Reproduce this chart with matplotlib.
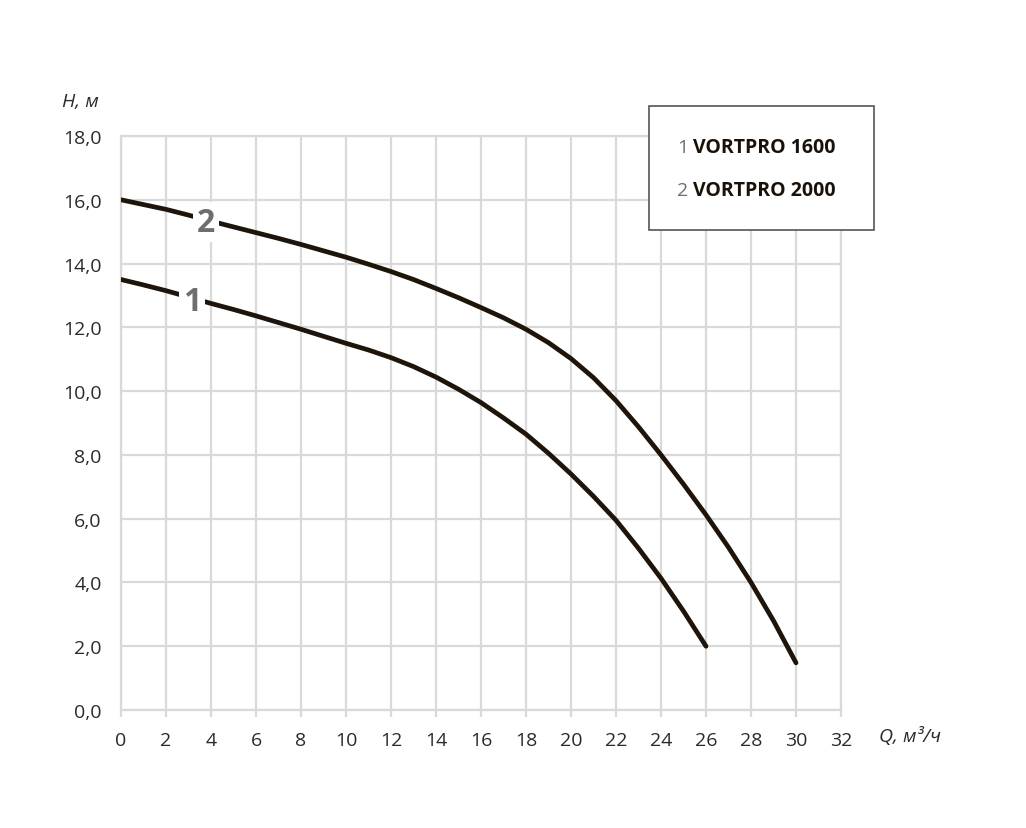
import matplotlib
matplotlib.use("Agg")
import matplotlib.pyplot as plt
import matplotlib.patches as patches

plt.rcParams['font.family'] = ['Open Sans', 'DejaVu Sans']

# Flow Q, m3/h and head H, m
q_1600 = [0, 1, 2, 3, 4, 5, 6, 7, 8, 9, 10, 11, 12, 13, 14, 15, 16, 17, 18,
          19, 20, 21, 22, 23, 24, 25, 26]
h_1600 = [13.5, 13.33, 13.15, 12.95, 12.75, 12.56, 12.36, 12.15, 11.94, 11.72,
          11.5, 11.29, 11.05, 10.77, 10.44, 10.06, 9.64, 9.16, 8.65, 8.05,
          7.4, 6.7, 5.95, 5.07, 4.13, 3.1, 2.0]

q_2000 = [0, 1, 2, 3, 4, 5, 6, 7, 8, 9, 10, 11, 12, 13, 14, 15, 16, 17, 18,
          19, 20, 21, 22, 23, 24, 25, 26, 27, 28, 29, 30]
h_2000 = [16.0, 15.85, 15.7, 15.52, 15.33, 15.15, 14.97, 14.79, 14.6, 14.4,
          14.2, 13.98, 13.75, 13.5, 13.22, 12.93, 12.62, 12.3, 11.94, 11.52,
          11.02, 10.42, 9.7, 8.88, 8.0, 7.08, 6.12, 5.1, 4.0, 2.8, 1.48]

x_ticks = list(range(0, 33, 2))
y_ticks = [0, 2, 4, 6, 8, 10, 12, 14, 16, 18]
y_tick_labels = ['0,0', '2,0', '4,0', '6,0', '8,0', '10,0', '12,0', '14,0',
                 '16,0', '18,0']

line_color = '#1e140a'
grid_color = '#d9d9d9'
text_color = '#2a2a2a'
label_gray = '#6e6e6e'

fig = plt.figure(figsize=(10.26, 8.29), dpi=100)
ax = fig.add_axes([0.118, 0.1423, 0.7017, 0.6924])

ax.plot(q_1600, h_1600, color=line_color, lw=3.4, solid_capstyle='round',
        solid_joinstyle='round', zorder=3)
ax.plot(q_2000, h_2000, color=line_color, lw=3.4, solid_capstyle='round',
        solid_joinstyle='round', zorder=3)

# curve numbers sitting on the lines
for txt, (x, y) in [('1', (3.17, 12.8)), ('2', (3.76, 15.3))]:
    ax.text(x, y, txt, ha='center', va='center', fontsize=23,
            fontweight='bold', color=label_gray, zorder=4,
            bbox=dict(boxstyle='square,pad=0.12', fc='white', ec='none'))

ax.set_xlim(0, 32)
ax.set_ylim(0, 18)
ax.set_xticks(x_ticks)
ax.set_yticks(y_ticks)
ax.set_yticklabels(y_tick_labels)
ax.grid(True, color=grid_color, lw=1.6)
ax.set_axisbelow(True)
for s in ax.spines.values():
    s.set_color(grid_color)
    s.set_linewidth(1.6)
ax.tick_params(axis='x', length=5, width=1.6, color=grid_color,
               labelsize=14, labelcolor=text_color, pad=10)
ax.tick_params(axis='y', length=0, labelsize=14, labelcolor=text_color,
               pad=14)

fig.text(0.078, 0.877, 'H, м', fontsize=14, style='italic', color=text_color,
         ha='center', va='center')
fig.text(0.887, 0.111, 'Q, м³/ч', fontsize=14, style='italic',
         color=text_color, ha='center', va='center')

# legend box
box = patches.Rectangle((0.6326, 0.7214), 0.2193, 0.1495,
                        transform=fig.transFigure, fc='white',
                        ec='#555555', lw=1.2)
fig.patches.append(box)
for i, (num, name) in enumerate([('1', 'VORTPRO 1600'),
                                 ('2', 'VORTPRO 2000')]):
    y = 0.8215 - i * 0.052
    fig.text(0.660, y, num, fontsize=14, color=label_gray,
             ha='left', va='center')
    fig.text(0.675, y, name, fontsize=14, fontweight='bold',
             color='#1a1208', ha='left', va='center')

fig.savefig('out.png', dpi=100, facecolor='white')
